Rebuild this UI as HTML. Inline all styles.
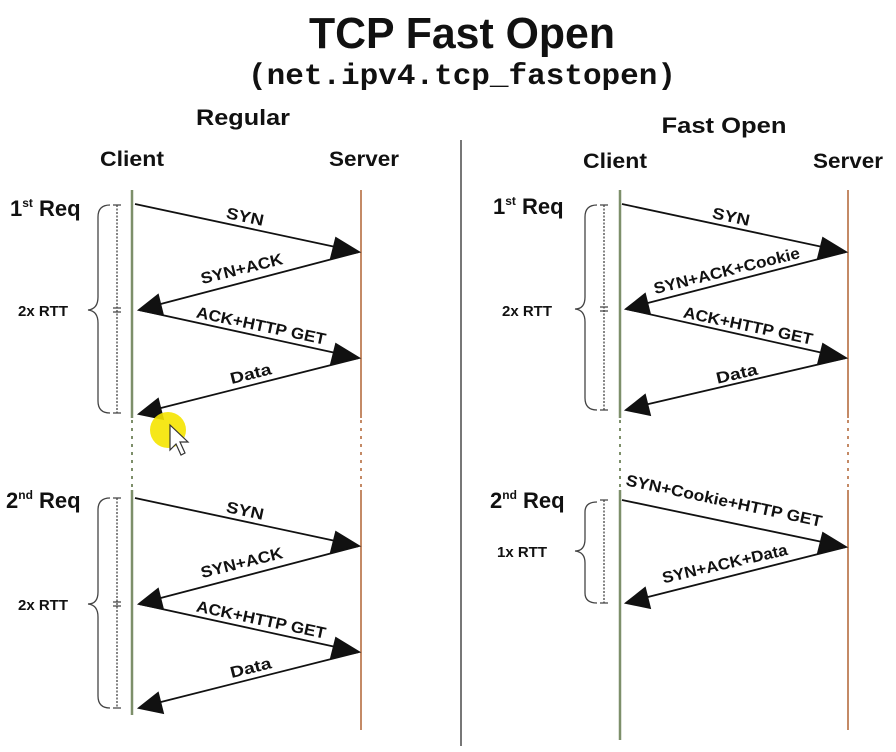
<!DOCTYPE html>
<html><head><meta charset="utf-8"><style>
html,body{margin:0;padding:0;background:#fff;}
svg{display:block;}
text{font-family:"Liberation Sans Narrow","Liberation Sans",sans-serif;fill:#111;}
.b{font-weight:bold;}
</style></head><body>
<svg width="896" height="752" viewBox="0 0 896 752" xmlns="http://www.w3.org/2000/svg">
<rect width="896" height="752" fill="#fff"/>
<text x="462" y="48" text-anchor="middle" class="b" font-size="44" textLength="306" lengthAdjust="spacingAndGlyphs">TCP Fast Open</text>
<text x="462" y="84" text-anchor="middle" class="b" font-size="30" style="font-family:'Liberation Mono',monospace" textLength="428" lengthAdjust="spacingAndGlyphs">(net.ipv4.tcp_fastopen)</text>
<text x="243" y="125" text-anchor="middle" class="b" font-size="22" textLength="94" lengthAdjust="spacingAndGlyphs">Regular</text>
<text x="724" y="133" text-anchor="middle" class="b" font-size="22" textLength="125" lengthAdjust="spacingAndGlyphs">Fast Open</text>
<text x="132" y="166" text-anchor="middle" class="b" font-size="21" textLength="64" lengthAdjust="spacingAndGlyphs">Client</text>
<text x="364" y="166" text-anchor="middle" class="b" font-size="21" textLength="70" lengthAdjust="spacingAndGlyphs">Server</text>
<text x="615" y="168" text-anchor="middle" class="b" font-size="21" textLength="64" lengthAdjust="spacingAndGlyphs">Client</text>
<text x="848" y="168" text-anchor="middle" class="b" font-size="21" textLength="70" lengthAdjust="spacingAndGlyphs">Server</text>
<line x1="461" y1="140" x2="461" y2="746" stroke="#777" stroke-width="2"/>

<line x1="132" y1="190" x2="132" y2="418" stroke="#7d8f6a" stroke-width="2.5"/>
<line x1="132" y1="420" x2="132" y2="490" stroke="#7d8f6a" stroke-width="2" stroke-dasharray="3,5"/>
<line x1="132" y1="490" x2="132" y2="715" stroke="#7d8f6a" stroke-width="2.5"/>
<line x1="361" y1="190" x2="361" y2="418" stroke="#c48a66" stroke-width="2"/>
<line x1="361" y1="420" x2="361" y2="490" stroke="#c48a66" stroke-width="2" stroke-dasharray="3,5"/>
<line x1="361" y1="490" x2="361" y2="730" stroke="#c48a66" stroke-width="2"/>
<line x1="620" y1="190" x2="620" y2="418" stroke="#7d8f6a" stroke-width="2.5"/>
<line x1="620" y1="420" x2="620" y2="490" stroke="#7d8f6a" stroke-width="2" stroke-dasharray="3,5"/>
<line x1="620" y1="490" x2="620" y2="740" stroke="#7d8f6a" stroke-width="2.5"/>
<line x1="848" y1="190" x2="848" y2="418" stroke="#c48a66" stroke-width="2"/>
<line x1="848" y1="420" x2="848" y2="490" stroke="#c48a66" stroke-width="2" stroke-dasharray="3,5"/>
<line x1="848" y1="490" x2="848" y2="730" stroke="#c48a66" stroke-width="2"/>

<g stroke="#111" stroke-width="1.8" fill="#111">
<line x1="135" y1="204" x2="345" y2="249"/><polygon points="359,252 336,238 331,258"/>
<line x1="359" y1="252" x2="153" y2="306"/><polygon points="139,310 158,295 163,315"/>
<line x1="139" y1="310" x2="345" y2="355"/><polygon points="359,358 336,344 331,364"/>
<line x1="359" y1="358" x2="153" y2="410"/><polygon points="139,414 158,399 163,419"/>
<line x1="135" y1="498" x2="345" y2="543"/><polygon points="359,546 336,532 331,552"/>
<line x1="359" y1="546" x2="153" y2="600"/><polygon points="139,604 158,589 163,609"/>
<line x1="139" y1="604" x2="345" y2="649"/><polygon points="359,652 336,638 331,658"/>
<line x1="359" y1="652" x2="153" y2="704"/><polygon points="139,708 158,693 163,713"/>
<line x1="622" y1="204" x2="832" y2="249"/><polygon points="846,252 823,238 818,258"/>
<line x1="846" y1="252" x2="640" y2="305"/><polygon points="626,309 645,294 650,314"/>
<line x1="626" y1="309" x2="832" y2="355"/><polygon points="846,358 823,344 818,364"/>
<line x1="846" y1="358" x2="640" y2="406"/><polygon points="626,410 645,395 650,415"/>
<line x1="622" y1="500" x2="832" y2="544"/><polygon points="846,547 823,533 818,553"/>
<line x1="846" y1="547" x2="640" y2="599"/><polygon points="626,603 645,588 650,608"/>
</g>

<g class="b" font-size="16">
<text transform="translate(244,222) rotate(12)" text-anchor="middle" textLength="38" lengthAdjust="spacingAndGlyphs">SYN</text>
<text transform="translate(243,274) rotate(-14)" text-anchor="middle" textLength="84" lengthAdjust="spacingAndGlyphs">SYN+ACK</text>
<text transform="translate(260,331) rotate(12)" text-anchor="middle" textLength="132" lengthAdjust="spacingAndGlyphs">ACK+HTTP GET</text>
<text transform="translate(252,379) rotate(-14)" text-anchor="middle" textLength="42" lengthAdjust="spacingAndGlyphs">Data</text>
<text transform="translate(244,516) rotate(12)" text-anchor="middle" textLength="38" lengthAdjust="spacingAndGlyphs">SYN</text>
<text transform="translate(243,568) rotate(-14)" text-anchor="middle" textLength="84" lengthAdjust="spacingAndGlyphs">SYN+ACK</text>
<text transform="translate(260,625) rotate(12)" text-anchor="middle" textLength="132" lengthAdjust="spacingAndGlyphs">ACK+HTTP GET</text>
<text transform="translate(252,673) rotate(-14)" text-anchor="middle" textLength="42" lengthAdjust="spacingAndGlyphs">Data</text>
<text transform="translate(730,222) rotate(12)" text-anchor="middle" textLength="38" lengthAdjust="spacingAndGlyphs">SYN</text>
<text transform="translate(728,276) rotate(-14)" text-anchor="middle" textLength="150" lengthAdjust="spacingAndGlyphs">SYN+ACK+Cookie</text>
<text transform="translate(747,331) rotate(12)" text-anchor="middle" textLength="132" lengthAdjust="spacingAndGlyphs">ACK+HTTP GET</text>
<text transform="translate(738,379) rotate(-13)" text-anchor="middle" textLength="42" lengthAdjust="spacingAndGlyphs">Data</text>
<text transform="translate(723,506) rotate(12)" text-anchor="middle" textLength="200" lengthAdjust="spacingAndGlyphs">SYN+Cookie+HTTP GET</text>
<text transform="translate(726,569) rotate(-13)" text-anchor="middle" textLength="128" lengthAdjust="spacingAndGlyphs">SYN+ACK+Data</text>
</g>

<g class="b">
<text x="10" y="216" font-size="22">1<tspan font-size="12" dy="-9">st</tspan><tspan dy="9"> Req</tspan></text>
<text x="6" y="508" font-size="22">2<tspan font-size="12" dy="-9">nd</tspan><tspan dy="9"> Req</tspan></text>
<text x="493" y="214" font-size="22">1<tspan font-size="12" dy="-9">st</tspan><tspan dy="9"> Req</tspan></text>
<text x="490" y="508" font-size="22">2<tspan font-size="12" dy="-9">nd</tspan><tspan dy="9"> Req</tspan></text>
<text x="18" y="316" font-size="15">2x RTT</text>
<text x="18" y="610" font-size="15">2x RTT</text>
<text x="502" y="316" font-size="15">2x RTT</text>
<text x="497" y="557" font-size="15">1x RTT</text>
</g>

<g stroke="#444" fill="none" stroke-width="1.3">
<line x1="117" y1="205" x2="117" y2="413" stroke-dasharray="2,1.5"/>
<path d="M113,205h8M113,308h8M113,312h8M113,413h8"/>
<path d="M110,205 q-12,0 -12,12 v80 q0,12 -10,13 q10,1 10,13 v78 q0,12 12,12"/>
<line x1="117" y1="498" x2="117" y2="708" stroke-dasharray="2,1.5"/>
<path d="M113,498h8M113,602h8M113,606h8M113,708h8"/>
<path d="M110,498 q-12,0 -12,12 v82 q0,12 -10,12 q10,1 10,13 v79 q0,12 12,12"/>
<line x1="604" y1="205" x2="604" y2="410" stroke-dasharray="2,1.5"/>
<path d="M600,205h8M600,307h8M600,311h8M600,410h8"/>
<path d="M597,205 q-12,0 -12,12 v80 q0,12 -10,12 q10,1 10,13 v76 q0,12 12,12"/>
<line x1="604" y1="500" x2="604" y2="603" stroke-dasharray="2,1.5"/>
<path d="M600,500h8M600,603h8"/>
<path d="M597,502 q-12,0 -12,10 v27 q0,12 -10,12 q10,1 10,12 v30 q0,10 12,10"/>
</g>

<circle cx="168" cy="430" r="18" fill="#f5e400" opacity="0.9"/>
<path d="M170,425 L170,450 L176,444 L181,455 L185,453 L180,442 L188,442 Z" fill="#fff" stroke="#333" stroke-width="1.2"/>
</svg>
</body></html>
